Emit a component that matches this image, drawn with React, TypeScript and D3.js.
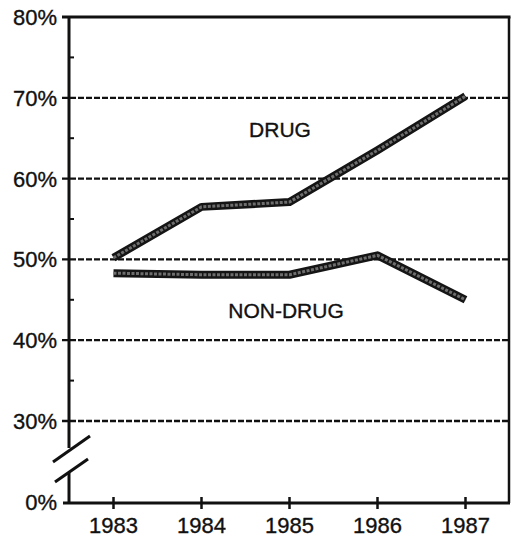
import React from "react";
import * as d3 from "d3";

const years = ["1983", "1984", "1985", "1986", "1987"];
const drugValues = [50.2, 56.5, 57.1, 63.5, 70.2];
const nonDrugValues = [48.3, 48.1, 48.1, 50.5, 45.0];
const gridTicks = [70, 60, 50, 40, 30];
const minorTicks = [75, 65, 55, 45, 35];
const yLabels = [80, 70, 60, 50, 40, 30];

const W = 511;
const H = 539;

export default function App() {
  const x = d3.scalePoint<string>().domain(years).range([113.5, 465.5]);
  const y = d3.scaleLinear().domain([30, 80]).range([421, 17]);
  const yZero = 503;
  const axisX = 69;
  const rightX = 509;

  const line = d3
    .line<number>()
    .x((_, i) => x(years[i]) as number)
    .y((d) => y(d));

  const font = "'Liberation Sans', Arial, Helvetica, sans-serif";
  const textProps = {
    fontFamily: font,
    fontSize: 22,
    fill: "#111",
    stroke: "#111",
    strokeWidth: 0.35,
  };

  const series = [drugValues, nonDrugValues];

  return (
    <svg
      width={W}
      height={H}
      style={{ position: "absolute", left: 0, top: 0, background: "#fff" }}
    >
      {gridTicks.map((t) => (
        <line
          key={"g" + t}
          x1={62}
          x2={rightX}
          y1={y(t)}
          y2={y(t)}
          stroke="#111"
          strokeWidth={2.3}
          strokeDasharray="6,2"
        />
      ))}
      <line x1={62} x2={rightX + 1.5} y1={y(80)} y2={y(80)} stroke="#111" strokeWidth={3} />
      <line x1={rightX} x2={rightX} y1={y(80)} y2={yZero} stroke="#111" strokeWidth={2.5} />
      <line x1={63} x2={rightX + 1} y1={yZero} y2={yZero} stroke="#111" strokeWidth={3} />
      <line x1={axisX} x2={axisX} y1={y(80)} y2={448} stroke="#111" strokeWidth={3} />
      <line x1={axisX} x2={axisX} y1={473} y2={yZero} stroke="#111" strokeWidth={3} />
      <line x1={53} y1={462} x2={90} y2={436} stroke="#111" strokeWidth={3} />
      <line x1={55} y1={482} x2={88} y2={459} stroke="#111" strokeWidth={3} />
      {minorTicks.map((t) => (
        <line
          key={"m" + t}
          x1={axisX}
          x2={axisX + 5}
          y1={y(t)}
          y2={y(t)}
          stroke="#111"
          strokeWidth={2}
        />
      ))}
      {years.map((yr) => (
        <line
          key={"xt" + yr}
          x1={x(yr) as number}
          x2={x(yr) as number}
          y1={yZero - 6}
          y2={yZero + 6}
          stroke="#111"
          strokeWidth={2.5}
        />
      ))}
      {yLabels.map((t) => (
        <text key={"yl" + t} x={57} y={y(t) + 8} textAnchor="end" {...textProps}>
          {t}%
        </text>
      ))}
      <text x={57} y={yZero + 7} textAnchor="end" {...textProps}>
        0%
      </text>
      {years.map((yr) => (
        <text key={"xl" + yr} x={x(yr) as number} y={533} textAnchor="middle" {...textProps}>
          {yr}
        </text>
      ))}
      {series.map((s, i) => (
        <g key={"s" + i}>
          <path
            d={line(s) || ""}
            fill="none"
            stroke="#151515"
            strokeWidth={8}
            strokeLinejoin="round"
          />
          <path
            d={line(s) || ""}
            fill="none"
            stroke="#6e6e6e"
            strokeWidth={3}
            strokeLinejoin="round"
            strokeDasharray="3,1.5"
          />
        </g>
      ))}
      <text x={280} y={137} textAnchor="middle" {...textProps} fontSize={21}>
        DRUG
      </text>
      <text x={286} y={318} textAnchor="middle" {...textProps} fontSize={21}>
        NON-DRUG
      </text>
    </svg>
  );
}
